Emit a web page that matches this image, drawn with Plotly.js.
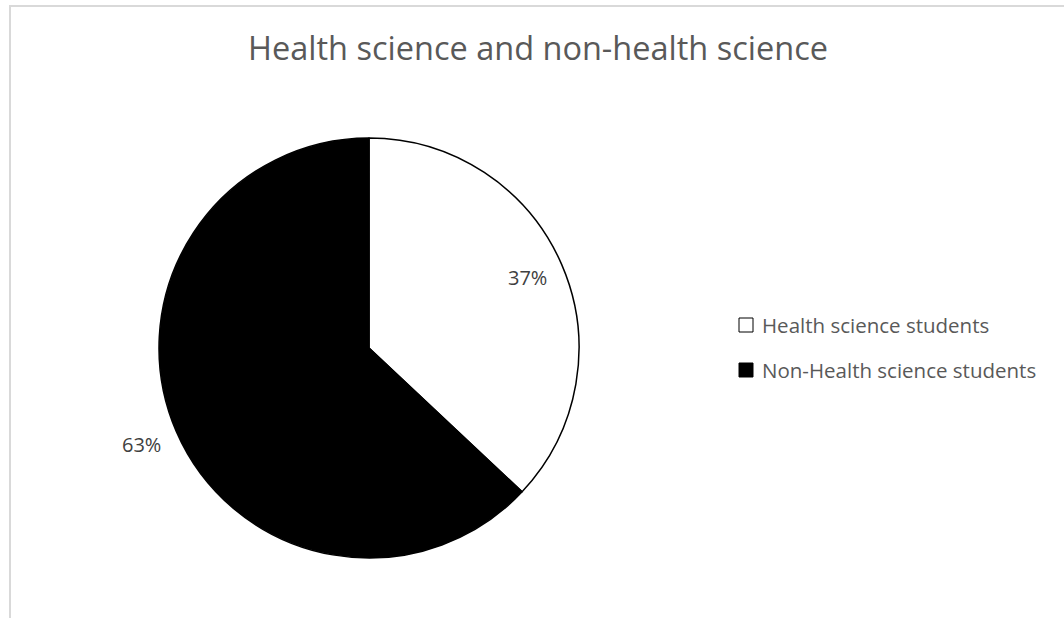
<!DOCTYPE html>
<html>
<head>
<meta charset="utf-8">
<script src="https://cdn.plot.ly/plotly-3.0.1.min.js"></script>
<style>
  html, body { margin: 0; padding: 0; background: #ffffff; }
  #frame {
    position: absolute; left: 9px; top: 5px; width: 1060px; height: 620px;
    border-left: 2px solid #d9d9d9; border-top: 2px solid #d9d9d9;
    pointer-events: none;
  }
  #chart { position: absolute; left: 0; top: 0; width: 1064px; height: 618px; }
</style>
</head>
<body>
<div id="chart"></div>
<div id="frame"></div>
<script>
// Student groups and their shares (%)
const categories = ['Health science students', 'Non-Health science students'];
const shares = [37, 63];
const sliceColors = ['#ffffff', '#000000'];

const W = 1064, H = 618;
// pie placement in pixels
const cx = 369, cy = 348, R = 210;
// how far from the centre each percentage label sits (fraction of radius)
const labelRadius = [0.82, 1.18];

const total = shares.reduce((a, b) => a + b, 0);

const trace = {
  type: 'pie',
  labels: categories,
  values: shares,
  sort: false,
  direction: 'clockwise',
  rotation: 0,
  textinfo: 'none',
  hoverinfo: 'label+percent',
  showlegend: false,
  marker: { colors: sliceColors, line: { color: '#000000', width: 1.5 } },
  domain: {
    x: [(cx - R) / W, (cx + R) / W],
    y: [1 - (cy + R) / H, 1 - (cy - R) / H]
  }
};

// percentage labels placed along each slice's mid-angle
const annotations = [];
let acc = 0;
shares.forEach((v, i) => {
  const mid = (acc + v / 2) / total * 2 * Math.PI;
  acc += v;
  const px = cx + labelRadius[i] * R * Math.sin(mid);
  const py = cy - labelRadius[i] * R * Math.cos(mid);
  annotations.push({
    xref: 'paper', yref: 'paper', x: px / W, y: 1 - (py - 2) / H,
    xanchor: 'center', yanchor: 'middle', showarrow: false,
    text: Math.round(v / total * 100) + '%',
    font: { family: 'Open Sans, sans-serif', size: 20, color: '#404040' }
  });
});

// legend: swatch + label per category
const legX = 739, legY0 = 325, legStep = 45, sw = 14;
const shapes = [];
categories.forEach((c, i) => {
  const y = legY0 + i * legStep;
  shapes.push({
    type: 'rect', xref: 'paper', yref: 'paper',
    x0: legX / W, x1: (legX + sw) / W,
    y0: 1 - (y + sw / 2) / H, y1: 1 - (y - sw / 2) / H,
    fillcolor: sliceColors[i], line: { color: '#000000', width: 1 }
  });
  annotations.push({
    xref: 'paper', yref: 'paper', x: (legX + sw + 7) / W, y: 1 - y / H,
    xanchor: 'left', yanchor: 'middle', showarrow: false,
    text: c,
    font: { family: 'Open Sans, sans-serif', size: 20.5, color: '#595959' }
  });
});

const layout = {
  width: W, height: H,
  margin: { l: 0, r: 0, t: 0, b: 0 },
  paper_bgcolor: '#ffffff',
  title: {
    text: 'Health science and non-health science',
    font: { family: 'Open Sans, sans-serif', size: 32.5, color: '#595959' },
    x: 538 / W, xanchor: 'center',
    y: 1 - 49 / H, yanchor: 'middle'
  },
  annotations: annotations,
  shapes: shapes
};

Plotly.newPlot('chart', [trace], layout, { displayModeBar: false, staticPlot: true });
</script>
</body>
</html>
